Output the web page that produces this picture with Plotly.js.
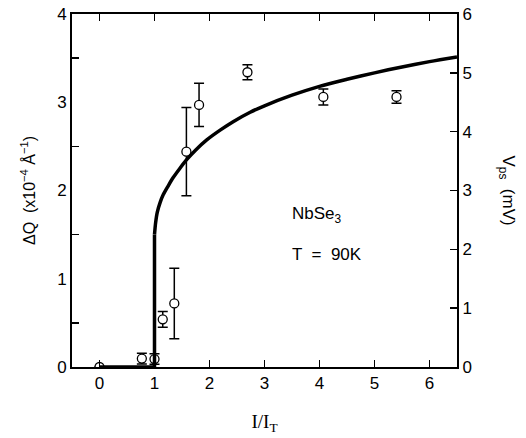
<!DOCTYPE html>
<html><head><meta charset="utf-8">
<script src="https://cdn.plot.ly/plotly-3.0.1.min.js"></script>
<style>html,body{margin:0;padding:0;background:#fff}</style>
</head><body>
<div id="chart" style="width:526px;height:438px"></div>
<script>
// Measured ΔQ points (left axis, x10^-4 Å^-1)
const pointX = [0, 0.77, 1.0, 1.15, 1.36, 1.58, 1.81, 2.69, 4.07, 5.40];
const pointY = [0, 0.095, 0.09, 0.54, 0.72, 2.44, 2.97, 3.34, 3.06, 3.06];
const pointErr = [0, 0.06, 0.06, 0.09, 0.40, 0.50, 0.245, 0.085, 0.09, 0.07];

// V_ps (right axis, mV): zero below threshold, jump at I/I_T = 1
const stepX = [0, 1.0, 1.0];
const stepV = [0, 0, 2.25];
const curveX = [1.0, 1.02, 1.05, 1.1, 1.16, 1.25, 1.34, 1.46, 1.58, 1.75, 1.95, 2.2, 2.43, 2.74, 3.0, 3.5, 4.0, 4.5, 5.0, 5.5, 6.0, 6.5];
const curveV = [2.25, 2.45, 2.63, 2.79, 2.93, 3.08, 3.22, 3.375, 3.52, 3.69, 3.86, 4.03, 4.17, 4.33, 4.44, 4.62, 4.77, 4.89, 5.0, 5.1, 5.19, 5.27];

const xTicks = [0, 1, 2, 3, 4, 5, 6];
const leftTicks = [0, 1, 2, 3, 4];
const leftMinor = [0.5, 1.5, 2.5, 3.5];
const rightTicks = [0, 1, 2, 3, 4, 5, 6];

const font = 'Liberation Sans, Arial, sans-serif';

const traces = [
  {
    x: stepX, y: stepV, yaxis: 'y2', type: 'scatter', mode: 'lines',
    line: {color: 'black', width: 3.5}, hoverinfo: 'skip', showlegend: false
  },
  {
    x: curveX, y: curveV, yaxis: 'y2', type: 'scatter', mode: 'lines',
    line: {color: 'black', width: 3.5, shape: 'spline', smoothing: 0.8}, hoverinfo: 'skip', showlegend: false
  },
  {
    x: pointX, y: pointY, type: 'scatter', mode: 'markers',
    marker: {symbol: 'circle', size: 9, color: 'white', line: {color: 'black', width: 1.3}},
    error_y: {type: 'data', array: pointErr, visible: true, color: 'black', thickness: 1.5, width: 5},
    showlegend: false
  }
];

const layout = {
  width: 526, height: 438,
  margin: {l: 72, r: 69, t: 14, b: 71, pad: 0},
  paper_bgcolor: 'white', plot_bgcolor: 'white',
  font: {family: font, size: 17, color: 'black'},
  showlegend: false,
  xaxis: {
    range: [-0.5, 6.5], tickvals: xTicks, ticktext: xTicks.map(String),
    ticks: 'inside', ticklen: 7, tickwidth: 1.5, tickcolor: 'black',
    showline: true, linewidth: 2, linecolor: 'black', mirror: 'ticks',
    showgrid: false, zeroline: false,
    tickfont: {family: font, size: 17},
    title: {text: 'I/I<sub>T</sub>', font: {family: 'Liberation Serif, Times New Roman, serif', size: 19}, standoff: 22}
  },
  yaxis: {
    range: [0, 4], tickvals: leftTicks, ticktext: leftTicks.map(String),
    ticks: '', showline: true, linewidth: 2, linecolor: 'black',
    minor: {tickvals: leftMinor, ticks: 'inside', ticklen: 7, tickwidth: 1.5, tickcolor: 'black', showgrid: false},
    showgrid: false, zeroline: false,
    tickfont: {family: font, size: 17},
    title: {text: 'ΔQ  (x10<sup>−4</sup> Å<sup>−1</sup>)', font: {family: font, size: 16}, standoff: 18}
  },
  yaxis2: {
    range: [0, 6], overlaying: 'y', side: 'right', tickvals: rightTicks, ticktext: rightTicks.map(String),
    ticks: 'inside', ticklen: 7, tickwidth: 1.5, tickcolor: 'black',
    showline: true, linewidth: 2, linecolor: 'black',
    showgrid: false, zeroline: false,
    tickfont: {family: font, size: 17}
  },
  annotations: [
    {x: 3.47, y: 1.72, xref: 'x', yref: 'y', text: 'NbSe<sub>3</sub>', showarrow: false,
     xanchor: 'left', yanchor: 'middle', font: {family: font, size: 17}},
    {x: 3.47, y: 1.28, xref: 'x', yref: 'y', text: 'T  =  90K', showarrow: false,
     xanchor: 'left', yanchor: 'middle', font: {family: font, size: 17}},
    {x: 1, y: 0.5, xref: 'paper', yref: 'paper', xshift: 50, text: 'V<sub>ps</sub>  (mV)', showarrow: false,
     textangle: 90, xanchor: 'center', yanchor: 'middle', font: {family: font, size: 17}}
  ]
};

Plotly.newPlot('chart', traces, layout, {staticPlot: true, displayModeBar: false});
</script>
</body></html>
